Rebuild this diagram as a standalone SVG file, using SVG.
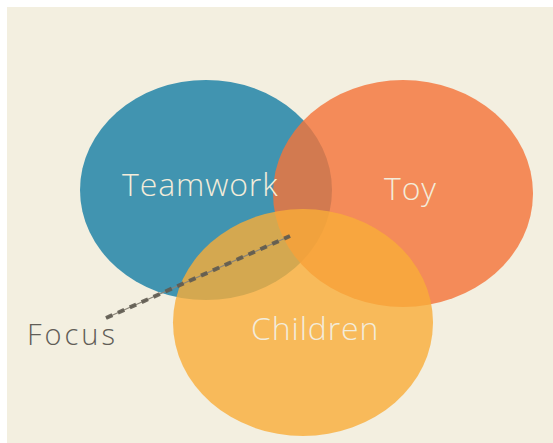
<svg xmlns="http://www.w3.org/2000/svg" width="553" height="443" viewBox="0 0 553 443">
  <style>
    .label { font-family: "Open Sans", Lato, "Liberation Sans", sans-serif; font-weight: 300; fill: #f3ecda; font-size: 32px; letter-spacing: 0.9px; }
    .focus { font-family: "Open Sans", Lato, "Liberation Sans", sans-serif; font-weight: 300; fill: #615d57; font-size: 29px; letter-spacing: 3px; }
  </style>
  <rect x="0" y="0" width="553" height="443" fill="#ffffff"/>
  <rect x="7" y="7" width="546" height="436" fill="#f3efe0"/>

  <g id="teamwork">
    <ellipse cx="206" cy="190" rx="126" ry="110" fill="#4194b0"/>
  </g>
  <g id="toy">
    <ellipse cx="403" cy="193.5" rx="130" ry="113.5" fill="#f4743a" fill-opacity="0.81"/>
  </g>
  <g id="children">
    <ellipse cx="303" cy="322.5" rx="130" ry="113.5" fill="#f9ad38" fill-opacity="0.8"/>
  </g>

  <g id="labels">
    <text class="label" x="122" y="196">Teamwork</text>
    <text class="label" x="384" y="200">Toy</text>
    <text class="label" x="251" y="340">Children</text>
    <text class="focus" x="27" y="345">Focus</text>
  </g>

  <g id="connectors">
    <line x1="106" y1="318" x2="290" y2="236" stroke="#8a8478" stroke-width="1.2"/>
    <line x1="106" y1="318" x2="290" y2="236" stroke="#5e5a50" stroke-width="4" stroke-dasharray="7 6" stroke-opacity="0.9"/>
  </g>
</svg>
